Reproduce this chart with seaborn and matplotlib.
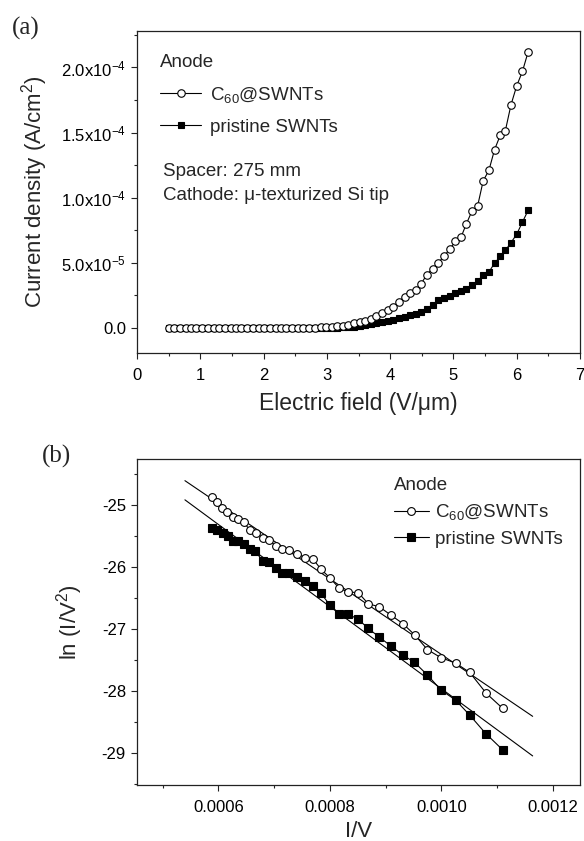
import numpy as np
import pandas as pd
import seaborn as sns
import matplotlib.pyplot as plt
from matplotlib.ticker import MultipleLocator, FixedLocator

# ---- (a) current density vs field ----
field = [0.50, 0.59, 0.68, 0.77, 0.86, 0.94, 1.03, 1.12, 1.21, 1.30, 1.39, 1.48, 1.57,
         1.65, 1.74, 1.83, 1.92, 2.01, 2.10, 2.19, 2.28, 2.36, 2.45, 2.54, 2.63, 2.72,
         2.81, 2.90, 2.99, 3.08, 3.16, 3.25, 3.34, 3.43, 3.52, 3.61, 3.70, 3.78, 3.87,
         3.96, 4.05, 4.14, 4.23, 4.32, 4.41, 4.49, 4.58, 4.67, 4.76, 4.85, 4.94, 5.03,
         5.12, 5.20, 5.29, 5.38, 5.47, 5.56, 5.65, 5.74, 5.82, 5.91, 6.00, 6.09, 6.18]
# values in units of 1e-5 A/cm2
j_c60 = [0.0] * 18 + [0.00, 0.00, 0.01, 0.01, 0.01, 0.01, 0.02, 0.02, 0.03, 0.04,
                      0.05, 0.08, 0.13, 0.18, 0.26, 0.36, 0.44, 0.56, 0.69, 0.92,
                      1.13, 1.38, 1.64, 2.03, 2.41, 2.67, 2.90, 3.40, 4.10, 4.55,
                      5.00, 5.50, 6.05, 6.64, 6.97, 7.95, 8.95, 9.33, 11.3, 12.1,
                      13.7, 14.8, 15.15, 17.15, 18.6, 19.7, 21.2]
j_pristine = [0.0] * 28 + [0.01, 0.02, 0.03, 0.05, 0.07, 0.10, 0.14, 0.21, 0.29, 0.37,
                           0.45, 0.53, 0.63, 0.74, 0.85, 0.97, 1.08, 1.20, 1.45, 1.80,
                           2.12, 2.30, 2.48, 2.65, 2.80, 3.00, 3.30, 3.60, 4.05, 4.30,
                           4.97, 5.50, 5.95, 6.56, 7.20, 8.13, 9.03]
yticks_a = [0, 5e-5, 1e-4, 1.5e-4, 2e-4]
ytick_labels_a = ["0.0", "5.0x10$^{-5}$", "1.0x10$^{-4}$", "1.5x10$^{-4}$", "2.0x10$^{-4}$"]

# ---- (b) FN plot ----
inv_v_c60 = [0.000588, 0.000598, 0.000606, 0.000616, 0.000626, 0.000636, 0.000646,
             0.000656, 0.000668, 0.000680, 0.000690, 0.000703, 0.000715, 0.000727,
             0.000742, 0.000756, 0.000770, 0.000784, 0.000800, 0.000817, 0.000833,
             0.000851, 0.000869, 0.000889, 0.000909, 0.000931, 0.000953, 0.000975,
             0.000999, 0.001026, 0.001051, 0.001081, 0.001110]
ln_c60 = [-24.87, -24.95, -25.04, -25.11, -25.18, -25.22, -25.27, -25.40, -25.44,
          -25.53, -25.56, -25.65, -25.70, -25.72, -25.78, -25.85, -25.87, -26.03,
          -26.17, -26.34, -26.40, -26.41, -26.59, -26.64, -26.77, -26.91, -27.10,
          -27.33, -27.46, -27.55, -27.70, -28.04, -28.28]
inv_v_pristine = [0.000588, 0.000598, 0.000609, 0.000618, 0.000626, 0.000636, 0.000646,
                  0.000656, 0.000666, 0.000680, 0.000690, 0.000703, 0.000715, 0.000727,
                  0.000742, 0.000756, 0.000769, 0.000784, 0.000800, 0.000817, 0.000833,
                  0.000851, 0.000869, 0.000889, 0.000909, 0.000931, 0.000951, 0.000975,
                  0.000999, 0.001026, 0.001051, 0.001080, 0.001110]
ln_pristine = [-25.37, -25.40, -25.45, -25.49, -25.58, -25.57, -25.62, -25.70, -25.74,
               -25.90, -25.92, -26.01, -26.10, -26.10, -26.16, -26.23, -26.31, -26.42,
               -26.61, -26.75, -26.76, -26.84, -26.99, -27.13, -27.27, -27.42, -27.53,
               -27.74, -27.98, -28.15, -28.39, -28.69, -28.95]
fit_x = [0.000540, 0.001164]
fit_c60 = [-24.60, -28.41]
fit_pristine = [-24.91, -29.05]

sns.set_style("ticks")
plt.rcParams['font.family'] = ['Liberation Sans', 'DejaVu Sans']
plt.rcParams['mathtext.fontset'] = 'custom'
plt.rcParams['mathtext.rm'] = 'Liberation Sans'
plt.rcParams['mathtext.it'] = 'Liberation Sans:italic'
plt.rcParams['mathtext.default'] = 'regular'
plt.rcParams['axes.linewidth'] = 0.9
plt.rcParams['axes.unicode_minus'] = False

fig = plt.figure(figsize=(5.84, 8.41), dpi=100)
ax1 = fig.add_axes([0.2346, 0.5803, 0.7586, 0.3828])
ax2 = fig.add_axes([0.2346, 0.0666, 0.7586, 0.3876])

line_kw = dict(color='black', linewidth=0.8, markeredgecolor='black', markeredgewidth=0.8)

df_a = pd.DataFrame({'field': field,
                     'c60': np.array(j_c60) * 1e-5,
                     'pristine': np.array(j_pristine) * 1e-5})
sns.lineplot(data=df_a, x='field', y='pristine', ax=ax1, marker='s', markersize=4.6,
             markerfacecolor='black', label='pristine SWNTs', **line_kw)
sns.lineplot(data=df_a, x='field', y='c60', ax=ax1, marker='o', markersize=5.4,
             markerfacecolor='white', label='C$_{60}$@SWNTs', **line_kw)

sns.lineplot(x=fit_x, y=fit_c60, ax=ax2, color='black', linewidth=0.8, legend=False)
sns.lineplot(x=fit_x, y=fit_pristine, ax=ax2, color='black', linewidth=0.8, legend=False)
sns.lineplot(x=inv_v_pristine, y=ln_pristine, ax=ax2, marker='s', markersize=5.2,
             markerfacecolor='black', label='pristine SWNTs', **line_kw)
sns.lineplot(x=inv_v_c60, y=ln_c60, ax=ax2, marker='o', markersize=5.6,
             markerfacecolor='white', label='C$_{60}$@SWNTs', **line_kw)

for ax in (ax1, ax2):
    for s in ax.spines.values():
        s.set_visible(True)
        s.set_color('#222222')
    ax.tick_params(which='both', direction='out', top=False, right=False,
                   labelsize=12, colors='#222222', labelcolor='black', pad=4)
    ax.tick_params(axis='x', which='both', pad=7)
    ax.tick_params(which='major', length=4, width=0.8)
    ax.tick_params(which='minor', length=2.5, width=0.8)

# panel (a)
ax1.set_xlim(0, 7)
ax1.set_ylim(-1.92e-5, 2.28e-4)
ax1.xaxis.set_major_locator(MultipleLocator(1))
ax1.xaxis.set_minor_locator(MultipleLocator(0.5))
ax1.yaxis.set_major_locator(FixedLocator(yticks_a))
ax1.set_yticklabels(ytick_labels_a)
ax1.yaxis.set_minor_locator(MultipleLocator(2.5e-5))
ax1.set_xlabel('Electric field (V/μm)', fontsize=16.5, labelpad=6)
ax1.set_ylabel('Current density (A/cm$^2$)', fontsize=16, labelpad=8)

h, l = ax1.get_legend_handles_labels()
ax1.legend(h[::-1], l[::-1], title='Anode', title_fontsize=13.5, fontsize=13.5,
           loc='upper left', bbox_to_anchor=(0.052, 0.93), frameon=False,
           alignment='left', borderpad=0, borderaxespad=0, handlelength=2.2,
           handletextpad=0.45, labelspacing=0.75)
ax1.text(0.058, 0.565, 'Spacer: 275 mm', transform=ax1.transAxes, fontsize=13.5,
         va='center', ha='left')
ax1.text(0.058, 0.488, 'Cathode: μ-texturized Si tip', transform=ax1.transAxes,
         fontsize=13.5, va='center', ha='left')

# panel (b)
ax2.set_xlim(0.000454, 0.001249)
ax2.set_ylim(-29.52, -24.25)
ax2.xaxis.set_major_locator(FixedLocator([0.0006, 0.0008, 0.0010, 0.0012]))
ax2.set_xticklabels(['0.0006', '0.0008', '0.0010', '0.0012'])
ax2.xaxis.set_minor_locator(MultipleLocator(0.0001))
ax2.yaxis.set_major_locator(MultipleLocator(1))
ax2.yaxis.set_minor_locator(MultipleLocator(0.5))
ax2.set_xlabel('I/V', fontsize=16, labelpad=4)
ax2.set_ylabel('ln (I/V$^2$)', fontsize=16, labelpad=12)

h, l = ax2.get_legend_handles_labels()
ax2.legend(h[::-1], l[::-1], title='Anode', title_fontsize=13.5, fontsize=13.5,
           loc='upper left', bbox_to_anchor=(0.58, 0.945), frameon=False,
           alignment='left', borderpad=0, borderaxespad=0, handlelength=1.85,
           handletextpad=0.35, labelspacing=0.45)

fig.text(0.02, 0.966, '(a)', fontsize=18, family=['Liberation Serif', 'DejaVu Serif'],
         va='center', ha='left')
fig.text(0.072, 0.457, '(b)', fontsize=18, family=['Liberation Serif', 'DejaVu Serif'],
         va='center', ha='left')

fig.savefig('out.png', dpi=100)
